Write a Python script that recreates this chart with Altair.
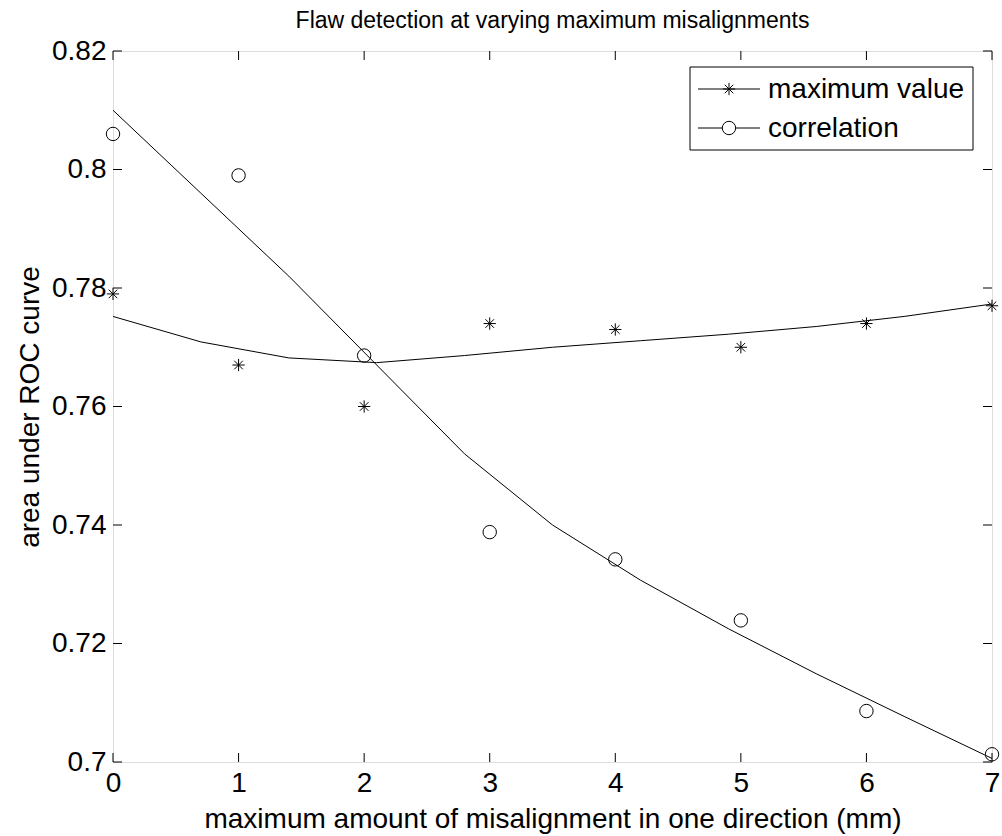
import altair as alt
import pandas as pd

# observed data
x_obs = [0, 1, 2, 3, 4, 5, 6, 7]
max_value = [0.779, 0.767, 0.760, 0.774, 0.773, 0.770, 0.774, 0.777]
correlation = [0.806, 0.799, 0.7686, 0.7388, 0.7342, 0.7239, 0.7086, 0.7013]

# fitted curves
x_fit = [0, 0.7, 1.4, 2.1, 2.8, 3.5, 4.2, 4.9, 5.6, 6.3, 7.0]
max_fit = [0.7752, 0.7709, 0.7682, 0.7674, 0.7686, 0.7700, 0.7711, 0.7722, 0.7735, 0.7752, 0.7773]
corr_fit = [0.810, 0.796, 0.782, 0.767, 0.752, 0.740, 0.7307, 0.7225, 0.7149, 0.7077, 0.7006]

x_ticks = [0, 1, 2, 3, 4, 5, 6, 7]
y_ticks = [0.70, 0.72, 0.74, 0.76, 0.78, 0.80, 0.82]

TITLE = "Flaw detection at varying maximum misalignments"
XTITLE = "maximum amount of misalignment in one direction (mm)"
YTITLE = "area under ROC curve"
LEGEND_LABELS = ["maximum value", "correlation"]

W, H = 879, 711
FONT = "Liberation Sans"
FS = 28
TICK = 9

ASTERISK = "M-1,0L1,0M0,-1L0,1M-0.7,-0.7L0.7,0.7M-0.7,0.7L0.7,-0.7"

xs = alt.Scale(domain=[0, 7], nice=False, zero=False)
ys = alt.Scale(domain=[0.70, 0.82], nice=False, zero=False)

obs = pd.DataFrame({"x": x_obs, "max": max_value, "corr": correlation})
fit = pd.DataFrame({"x": x_fit, "max": max_fit, "corr": corr_fit})

xaxis = alt.Axis(values=x_ticks, ticks=False, domain=False, grid=False, labelFlush=False,
                 labelOverlap=False,
                 labelFontSize=FS, labelFont=FONT, labelColor="black", labelPadding=7,
                 title=XTITLE,
                 titleFontSize=FS, titleFont=FONT, titleFontWeight="normal", titleColor="black",
                 titleY=65, titleBaseline="alphabetic")
yaxis = alt.Axis(values=y_ticks, ticks=False, domain=False, grid=False, format=".2~f", labelFlush=False,
                 labelOverlap=False,
                 labelFontSize=FS, labelFont=FONT, labelColor="black", labelPadding=7,
                 title=YTITLE,
                 titleFontSize=FS, titleFont=FONT, titleFontWeight="normal", titleColor="black",
                 titleAngle=270, titleX=-83, titleY=H / 2, titleAlign="center", titleBaseline="middle")

X = lambda f: alt.X(f, scale=xs, axis=xaxis)
Y = lambda f: alt.Y(f, scale=ys, axis=yaxis)

line_max = alt.Chart(fit).mark_line(color="black", strokeWidth=1).encode(x=X("x:Q"), y=Y("max:Q"))
line_corr = alt.Chart(fit).mark_line(color="black", strokeWidth=1).encode(x=X("x:Q"), y=Y("corr:Q"))
pts_max = alt.Chart(obs).mark_point(shape=ASTERISK, size=150, color="black", strokeWidth=1, filled=False, opacity=1).encode(
    x=X("x:Q"), y=Y("max:Q"))
pts_corr = alt.Chart(obs).mark_point(shape="circle", size=180, color="black", strokeWidth=1, filled=False, opacity=1).encode(
    x=X("x:Q"), y=Y("corr:Q"))

# inward ticks on all four sides
xt = pd.DataFrame({"x": x_ticks})
yt = pd.DataFrame({"y": y_ticks})
tick_b = alt.Chart(xt).mark_tick(orient="vertical", size=TICK, thickness=1, color="black", opacity=1).encode(
    x=X("x:Q"), y=alt.value(H - TICK / 2))
tick_t = alt.Chart(xt).mark_tick(orient="vertical", size=TICK, thickness=1, color="black", opacity=1).encode(
    x=X("x:Q"), y=alt.value(TICK / 2))
tick_l = alt.Chart(yt).mark_tick(orient="horizontal", size=TICK, thickness=1, color="black", opacity=1).encode(
    y=Y("y:Q"), x=alt.value(TICK / 2))
tick_r = alt.Chart(yt).mark_tick(orient="horizontal", size=TICK, thickness=1, color="black", opacity=1).encode(
    y=Y("y:Q"), x=alt.value(W - TICK / 2))

one = pd.DataFrame({"a": [0]})

# title
title = alt.Chart(one).mark_text(align="center", baseline="alphabetic", font=FONT, fontSize=23,
                                 color="black").encode(
    x=alt.value(W / 2), y=alt.value(-23), text=alt.value(TITLE))

# legend
LX0, LX1, LY0, LY1 = 577, 860, 16, 99
legend_box = alt.Chart(one).mark_rect(fill="white", stroke="black", strokeWidth=1).encode(
    x=alt.value(LX0), x2=alt.value(LX1), y=alt.value(LY0), y2=alt.value(LY1))
entries = [(LEGEND_LABELS[0], ASTERISK, 150, 38), (LEGEND_LABELS[1], "circle", 180, 77)]
legend_layers = [legend_box]
for label, shape, size, yy in entries:
    legend_layers.append(alt.Chart(one).mark_rule(color="black", strokeWidth=1).encode(
        x=alt.value(585), x2=alt.value(647), y=alt.value(yy)))
    legend_layers.append(alt.Chart(one).mark_point(shape=shape, size=size, color="black", filled=False,
                                                   strokeWidth=1, opacity=1, fill="white").encode(
        x=alt.value(616), y=alt.value(yy)))
    legend_layers.append(alt.Chart(one).mark_text(align="left", baseline="middle", font=FONT, fontSize=FS,
                                                  color="black").encode(
        x=alt.value(655), y=alt.value(yy + 1), text=alt.value(label)))

chart = alt.layer(line_max, line_corr, pts_max, pts_corr, tick_b, tick_t, tick_l, tick_r, title,
                  *legend_layers).properties(
    width=W, height=H,
    autosize=alt.AutoSizeParams(type="none"),
    padding={"left": 113, "top": 51, "right": 10, "bottom": 74},
).configure_view(stroke="black", strokeWidth=1).configure(background="white")

chart.save("out.html", embed_options={"renderer": "svg", "actions": False})
